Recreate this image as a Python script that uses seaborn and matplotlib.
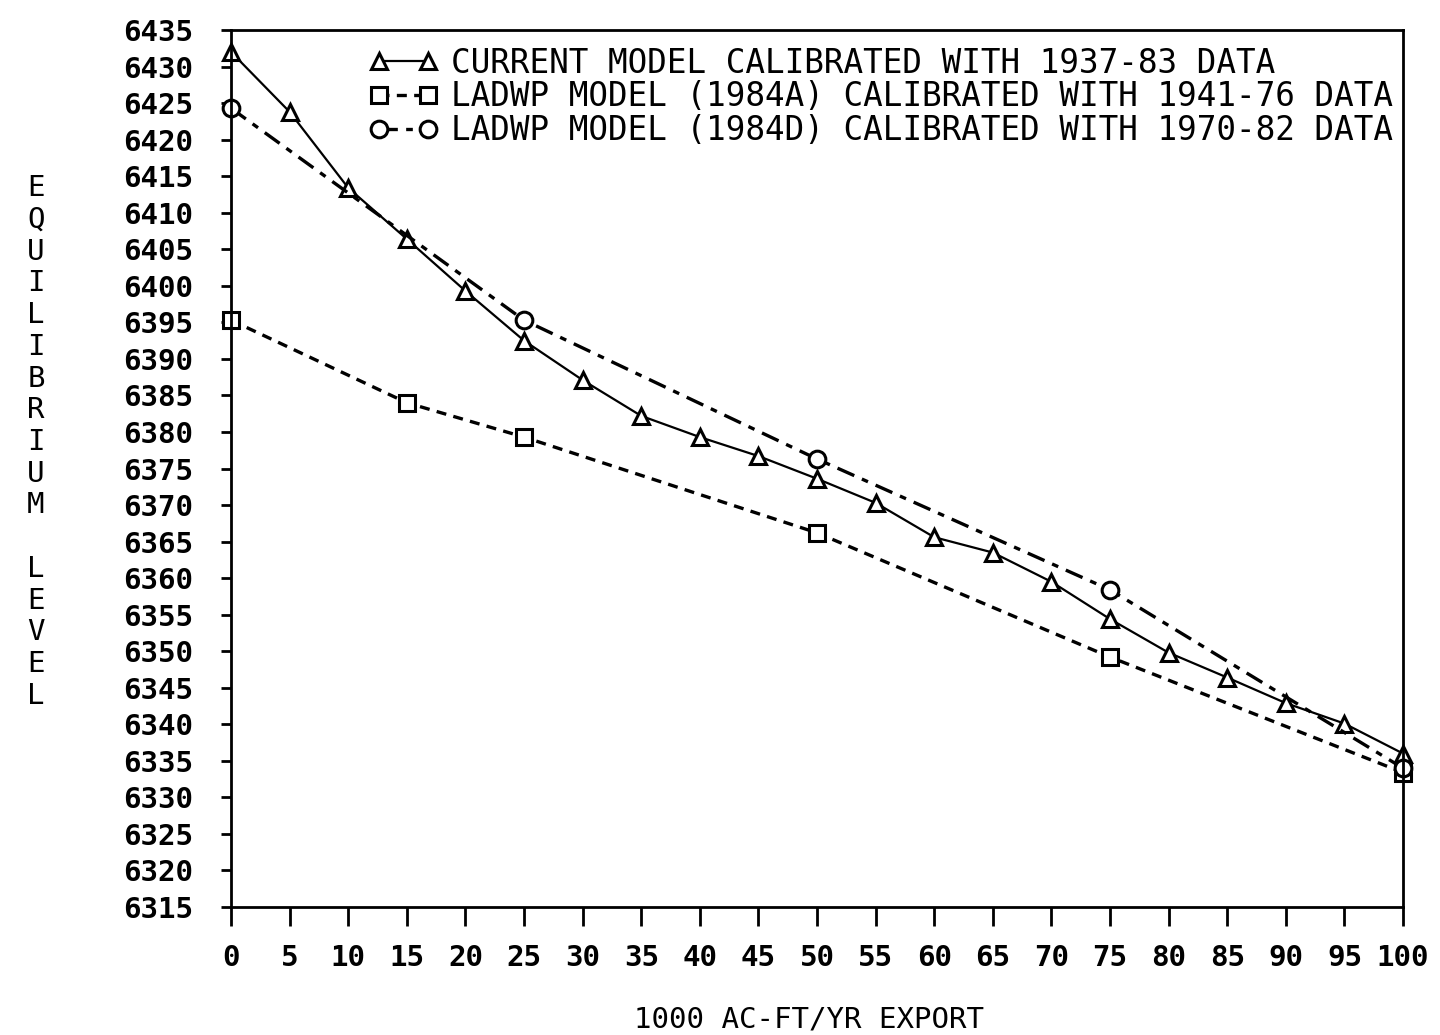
import matplotlib
matplotlib.use("Agg")
import matplotlib.pyplot as plt
import seaborn as sns
import numpy as np
import pandas as pd

# ---- data ----
x_current = [0, 5, 10, 15, 20, 25, 30, 35, 40, 45, 50, 55, 60, 65, 70, 75, 80, 85, 90, 95, 100]
y_current = [6432.0, 6423.8, 6413.4, 6406.4, 6399.3, 6392.5, 6387.1, 6382.2, 6379.3, 6376.7,
             6373.6, 6370.3, 6365.6, 6363.5, 6359.5, 6354.4, 6349.8, 6346.4, 6342.9, 6340.1, 6336.0]
x_1984a = [0, 15, 25, 50, 75, 100]
y_1984a = [6395.3, 6384.0, 6379.3, 6366.2, 6349.2, 6333.4]
x_1984d = [0, 25, 50, 75, 100]
y_1984d = [6424.3, 6395.3, 6376.3, 6358.4, 6334.0]

label_current = "CURRENT MODEL CALIBRATED WITH 1937-83 DATA"
label_1984a = "LADWP MODEL (1984A) CALIBRATED WITH 1941-76 DATA"
label_1984d = "LADWP MODEL (1984D) CALIBRATED WITH 1970-82 DATA"

x_ticks = list(range(0, 101, 5))
y_ticks = list(range(6315, 6436, 5))
x_label = "1000 AC-FT/YR EXPORT"
y_label = "EQUILIBRIUM LEVEL"

# ---- style ----
sns.set_style("ticks")
plt.rcParams['font.family'] = ['DejaVu Sans Mono', 'DejaVu Sans']
plt.rcParams['text.color'] = 'black'
plt.rcParams['axes.labelcolor'] = 'black'
plt.rcParams['xtick.color'] = 'black'
plt.rcParams['ytick.color'] = 'black'

fig = plt.figure(figsize=(14.4, 10.35), dpi=100)
ax = fig.add_axes([231/1440, 1 - 907/1035, (1403-231)/1440, (907-30)/1035])

mk = dict(markersize=12, markerfacecolor='white', markeredgecolor='black',
          markeredgewidth=2.2, clip_on=False)

sns.lineplot(x=x_current, y=y_current, ax=ax, color='black', linewidth=1.6,
             linestyle='-', marker='^', label=label_current, **mk)
sns.lineplot(x=x_1984a, y=y_1984a, ax=ax, color='black', linewidth=2.4,
             linestyle=(0, (3, 2.2)), marker='s', label=label_1984a,
             **dict(mk, markersize=11))
sns.lineplot(x=x_1984d, y=y_1984d, ax=ax, color='black', linewidth=2.4,
             linestyle=(0, (5.5, 2.5, 2, 2.5)), marker='o', label=label_1984d, **mk)

ax.set_xlim(0, 100)
ax.set_ylim(6315, 6435)
ax.set_xticks(x_ticks)
ax.set_yticks(y_ticks)
ax.set_xticklabels([str(v) for v in x_ticks])
ax.set_yticklabels([str(v) for v in y_ticks])
ax.set_xlabel("")
ax.set_ylabel("")

for s in ax.spines.values():
    s.set_linewidth(2.0)
    s.set_color('black')
    s.set_visible(True)

ax.tick_params(axis='x', direction='out', length=14, width=2.0, pad=13,
               labelsize=21, colors='black')
ax.tick_params(axis='y', direction='out', length=7, width=2.0, pad=20,
               labelsize=21, colors='black')
for t in ax.get_xticklabels() + ax.get_yticklabels():
    t.set_fontweight('bold')

leg = ax.legend(loc='upper left', bbox_to_anchor=(0.118, 0.981), frameon=False,
                numpoints=2, handlelength=2.1, handletextpad=0.4,
                labelspacing=0.02, borderpad=0, borderaxespad=0,
                prop={'family': 'DejaVu Sans Mono', 'size': 23.5})
for t in leg.get_texts():
    t.set_color('black')

fig.text(809/1440, 1 - 1019/1035, x_label, ha='center', va='center',
         fontsize=21, color='black')
fig.text(36/1440, 1 - 442/1035, "\n".join(list(y_label)), ha='center', va='center',
         fontsize=21, color='black', linespacing=1.17)

fig.savefig("out.png", dpi=100, facecolor='white')
